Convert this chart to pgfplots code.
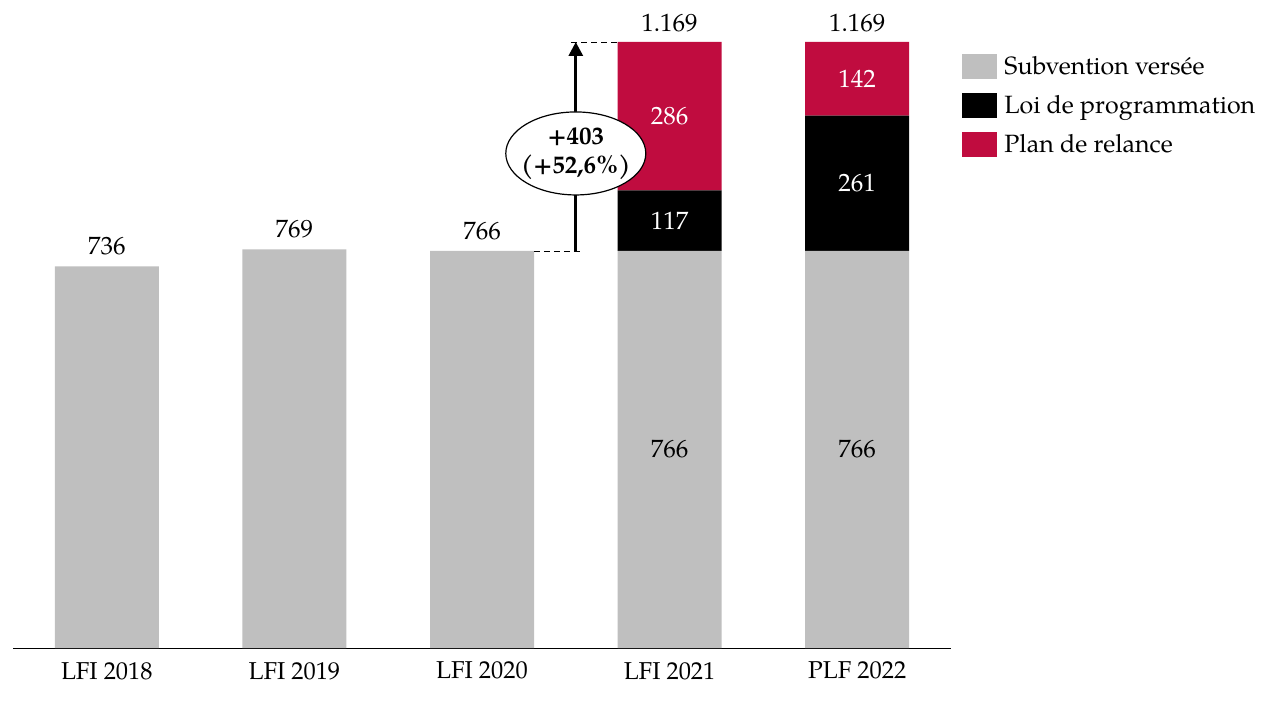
\documentclass[border=0pt]{standalone}
\usepackage{pgfplots}
\pgfplotsset{compat=1.18}
\usepackage{fontspec}
\setmainfont{TeX Gyre Pagella}
\usetikzlibrary{arrows.meta,shapes.geometric}
\definecolor{cgrey}{RGB}{191,191,191}
\definecolor{cred}{RGB}{192,12,63}
\begin{document}
\begin{tikzpicture}[font=\fontsize{12.5pt}{14.5pt}\selectfont]
\useasboundingbox (-6.5pt,-27.5pt) rectangle (630.5pt,324pt);
\begin{axis}[
  at={(0,0)}, anchor=south west,
  scale only axis, width=469pt, height=324pt,
  xmin=-0.5, xmax=4.5, ymin=0, ymax=1250,
  ybar stacked, bar width=52pt,
  axis x line=bottom, axis y line=none, axis line style={-},
  xtick={0,1,2,3,4},
  xticklabels={LFI 2018,LFI 2019,LFI 2020,LFI 2021,PLF 2022},
  major tick length=0pt,
  xticklabel style={yshift=-3.5pt, font=\fontsize{12.2pt}{14pt}\selectfont},
  legend style={at={(1.0117,0.9205)}, anchor=north west, draw=none, fill=none,
    inner sep=0pt, row sep=5pt, font=\fontsize{12.5pt}{14.5pt}\selectfont,
    /tikz/every odd column/.append style={column sep=1.5pt}},
  legend cell align=left,
  legend image code/.code={\fill[#1] (0pt,-6.25pt) rectangle (17.5pt,6.25pt);},
  clip=false,
]
\addplot[fill=cgrey, draw=none] coordinates {(0,736) (1,769) (2,766) (3,766) (4,766)};
\addplot[fill=black, draw=none] coordinates {(0,0) (1,0) (2,0) (3,117) (4,261)};
\addplot[fill=cred, draw=none] coordinates {(0,0) (1,0) (2,0) (3,286) (4,142)};
\legend{Subvention versée,Loi de programmation,Plan de relance}
\coordinate (t0) at (axis cs:0,736);
\coordinate (t1) at (axis cs:1,769);
\coordinate (t2) at (axis cs:2,766);
\coordinate (t3) at (axis cs:3,1169);
\coordinate (t4) at (axis cs:4,1169);
\coordinate (g3) at (axis cs:3,383);
\coordinate (g4) at (axis cs:4,383);
\coordinate (b3) at (axis cs:3,824.5);
\coordinate (b4) at (axis cs:4,896.5);
\coordinate (r3) at (axis cs:3,1026);
\coordinate (r4) at (axis cs:4,1098);
\coordinate (d1a) at (axis cs:2.277,766);
\coordinate (d1b) at (axis cs:2.535,766);
\coordinate (d2a) at (axis cs:2.476,1169);
\coordinate (d2b) at (axis cs:2.7227,1169);
\coordinate (ar0) at (axis cs:2.5,766);
\coordinate (ar1) at (axis cs:2.5,1169);
\coordinate (el) at (axis cs:2.5,954);
\end{axis}
\draw[densely dashed, line width=0.4pt] (d1a) -- (d1b);
\draw[densely dashed, line width=0.4pt] (d2a) -- (d2b);
\draw[line width=1.5pt, -{Triangle[length=7pt,width=7pt]}] (ar0) -- (ar1);
\node at (t0) [yshift=10pt] {736};
\node at (t1) [yshift=10pt] {769};
\node at (t2) [yshift=10pt] {766};
\node at (t3) [yshift=9.25pt] {1.169};
\node at (t4) [yshift=9.25pt] {1.169};
\node at (g3) {766};
\node at (g4) {766};
\node[white] at (b3) {117};
\node[white] at (b4) {261};
\node[white] at (r3) {286};
\node[white] at (r4) {142};
\draw[line width=0.6pt, fill=white] (el) ellipse (35pt and 20.75pt);
\node[inner sep=0pt, align=center, font=\fontsize{12.5pt}{14.5pt}\selectfont\bfseries]
  at (el) {+403\\(+52,6\%)};
\end{tikzpicture}
\end{document}
